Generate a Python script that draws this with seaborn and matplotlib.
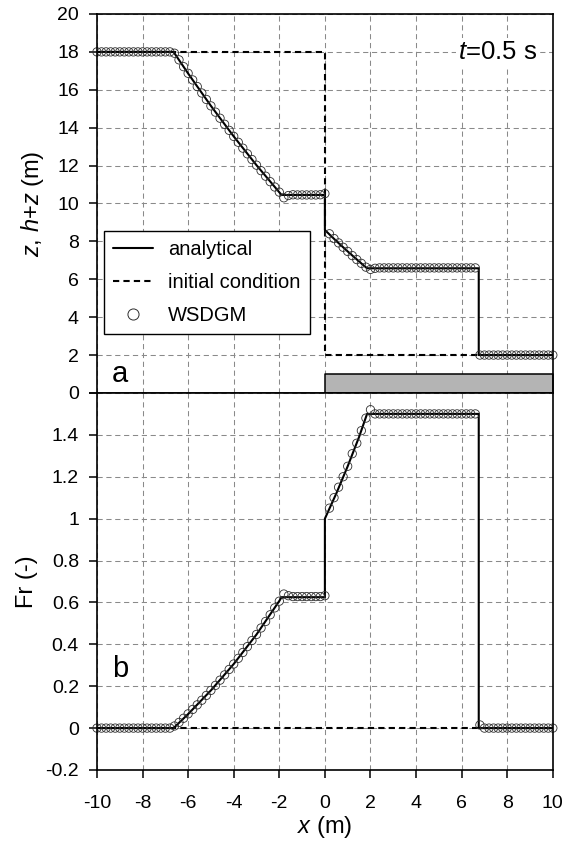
import numpy as np
import matplotlib
matplotlib.use("Agg")
import matplotlib.pyplot as plt
from matplotlib.lines import Line2D
from matplotlib.ticker import FormatStrFormatter, FuncFormatter
import seaborn as sns

# ---- data -------------------------------------------------------------
# sample positions of the WSDGM solution (m)
x_num = [-10.0, -9.8, -9.6, -9.4, -9.2, -9.0, -8.8, -8.6, -8.4, -8.2,
         -8.0, -7.8, -7.6, -7.4, -7.2, -7.0, -6.8, -6.6, -6.4, -6.2,
         -6.0, -5.8, -5.6, -5.4, -5.2, -5.0, -4.8, -4.6, -4.4, -4.2,
         -4.0, -3.8, -3.6, -3.4, -3.2, -3.0, -2.8, -2.6, -2.4, -2.2,
         -2.0, -1.8, -1.6, -1.4, -1.2, -1.0, -0.8, -0.6, -0.4, -0.2,
         0.0, 0.2, 0.4, 0.6, 0.8, 1.0, 1.2, 1.4, 1.6, 1.8,
         2.0, 2.2, 2.4, 2.6, 2.8, 3.0, 3.2, 3.4, 3.6, 3.8,
         4.0, 4.2, 4.4, 4.6, 4.8, 5.0, 5.2, 5.4, 5.6, 5.8,
         6.0, 6.2, 6.4, 6.6, 6.8, 7.0, 7.2, 7.4, 7.6, 7.8,
         8.0, 8.2, 8.4, 8.6, 8.8, 9.0, 9.2, 9.4, 9.6, 9.8, 10.0]

# free surface h+z of the WSDGM solution (m)
hz_num = [18.0, 18.0, 18.0, 18.0, 18.0, 18.0, 18.0, 18.0, 18.0, 18.0,
          18.0, 18.0, 18.0, 18.0, 18.0, 18.0, 18.0, 17.93, 17.58, 17.22,
          16.87, 16.52, 16.17, 15.83, 15.49, 15.15, 14.82, 14.50, 14.18, 13.86,
          13.54, 13.23, 12.92, 12.62, 12.32, 12.02, 11.73, 11.44, 11.15, 10.87,
          10.60, 10.30, 10.42, 10.46, 10.45, 10.45, 10.45, 10.45, 10.45, 10.46,
          10.52, 8.40, 8.15, 7.92, 7.69, 7.47, 7.25, 7.04, 6.84, 6.64,
          6.52, 6.58, 6.60, 6.60, 6.60, 6.60, 6.60, 6.60, 6.60, 6.60,
          6.60, 6.60, 6.60, 6.60, 6.60, 6.60, 6.60, 6.60, 6.60, 6.60,
          6.60, 6.60, 6.60, 6.60, 2.0, 2.0, 2.0, 2.0, 2.0, 2.0,
          2.0, 2.0, 2.0, 2.0, 2.0, 2.0, 2.0, 2.0, 2.0, 2.0, 2.0]

# Froude number of the WSDGM solution (-)
fr_num = [0.0, 0.0, 0.0, 0.0, 0.0, 0.0, 0.0, 0.0, 0.0, 0.0,
          0.0, 0.0, 0.0, 0.0, 0.0, 0.0, 0.0, 0.010, 0.027, 0.047,
          0.068, 0.089, 0.111, 0.133, 0.156, 0.180, 0.204, 0.229, 0.254, 0.280,
          0.306, 0.333, 0.361, 0.389, 0.418, 0.447, 0.478, 0.509, 0.541, 0.574,
          0.606, 0.640, 0.632, 0.628, 0.628, 0.628, 0.628, 0.628, 0.628, 0.628,
          0.632, 1.05, 1.10, 1.15, 1.20, 1.25, 1.31, 1.36, 1.42, 1.48,
          1.52, 1.50, 1.50, 1.50, 1.50, 1.50, 1.50, 1.50, 1.50, 1.50,
          1.50, 1.50, 1.50, 1.50, 1.50, 1.50, 1.50, 1.50, 1.50, 1.50,
          1.50, 1.50, 1.50, 1.50, 0.015, 0.0, 0.0, 0.0, 0.0, 0.0,
          0.0, 0.0, 0.0, 0.0, 0.0, 0.0, 0.0, 0.0, 0.0, 0.0, 0.0]

# analytical solution (breakpoints of the profile)
x_an = [-10.0, -6.64, -6.0, -5.0, -4.0, -3.0, -2.0, -1.9, 0.0, 0.0,
        0.5, 1.0, 1.5, 1.85, 6.75, 6.75, 10.0]
hz_an = [18.0, 18.0, 16.86, 15.15, 13.54, 12.02, 10.59, 10.45, 10.45, 8.6,
         8.02, 7.47, 6.94, 6.58, 6.58, 2.0, 2.0]
fr_an = [0.0, 0.0, 0.067, 0.180, 0.306, 0.447, 0.607, 0.625, 0.625, 1.0,
         1.12, 1.25, 1.39, 1.50, 1.50, 0.0, 0.0]

# initial condition
x_ic = [-10.0, 0.0, 0.0, 10.0]
hz_ic = [18.0, 18.0, 2.0, 2.0]
x_ic_fr = [-10.0, 10.0]
fr_ic = [0.0, 0.0]

# bottom step
step_x = [0.0, 10.0]
step_z = [1.0, 1.0]

x_ticks = [-10, -8, -6, -4, -2, 0, 2, 4, 6, 8, 10]
hz_ticks = [0, 2, 4, 6, 8, 10, 12, 14, 16, 18, 20]
fr_ticks = [-0.2, 0, 0.2, 0.4, 0.6, 0.8, 1.0, 1.2, 1.4, 1.6]

# ---- style ------------------------------------------------------------
sns.set_style("ticks")
plt.rcParams["font.family"] = ["Liberation Sans", "DejaVu Sans"]
plt.rcParams["mathtext.fontset"] = "custom"
plt.rcParams["mathtext.rm"] = "Liberation Sans"
plt.rcParams["mathtext.it"] = "Liberation Sans:italic"
plt.rcParams["axes.unicode_minus"] = False
plt.rcParams["text.color"] = "black"
plt.rcParams["axes.labelcolor"] = "black"
plt.rcParams["xtick.color"] = "black"
plt.rcParams["ytick.color"] = "black"

TICK_FS = 14
LABEL_FS = 17
GRID_KW = dict(color="#8a8a8a", linestyle=(0, (5, 3.5)), linewidth=0.75)
MARK_KW = dict(marker="o", s=36, facecolor="none", edgecolor="#2e2e2e",
               linewidth=0.6, clip_on=False, zorder=4, legend=False)
LINE_LW = 1.5
DASH = (0, (3, 2))

fig = plt.figure(figsize=(5.67, 8.48), dpi=100)
ax1 = fig.add_axes([0.171, 0.5366, 0.804, 0.4469])
ax2 = fig.add_axes([0.171, 0.092, 0.804, 0.4446])

for ax in (ax1, ax2):
    ax.set_xlim(-10, 10)
    ax.set_xticks(x_ticks)
    ax.grid(True, **GRID_KW)
    ax.set_axisbelow(True)
    for sp in ax.spines.values():
        sp.set_linewidth(1.2)
        sp.set_color("black")
        sp.set_zorder(6)
    ax.tick_params(axis="y", direction="out", length=6, width=1.1,
                   labelsize=TICK_FS, pad=7, colors="black")

# ---- panel a: free surface -------------------------------------------
ax1.fill_between(step_x, 0, step_z, facecolor="#b4b4b4", edgecolor="black",
                 linewidth=1.1, zorder=3)
sns.lineplot(x=x_ic, y=hz_ic, ax=ax1, sort=False, estimator=None,
             color="black", linewidth=LINE_LW, linestyle=DASH, zorder=2)
sns.lineplot(x=x_an, y=hz_an, ax=ax1, sort=False, estimator=None,
             color="black", linewidth=LINE_LW, zorder=3)
sns.scatterplot(x=x_num, y=hz_num, ax=ax1, **MARK_KW)

ax1.set_ylim(0, 20)
ax1.set_yticks(hz_ticks)
ax1.yaxis.set_major_formatter(FormatStrFormatter("%g"))
ax1.tick_params(axis="x", length=0, labelbottom=False)
ax1.set_xlabel("")
ax1.set_ylabel("$z$, $h$+$z$ (m)", fontsize=LABEL_FS)
ax1.yaxis.set_label_coords(-0.112, 0.5)

ax1.text(0.05, 0.03, "a", transform=ax1.transAxes, fontsize=21,
         ha="center", va="baseline")
ax1.text(9.3, 18, "$t$=0.5 s", fontsize=18.5, ha="right", va="center",
         bbox=dict(facecolor="white", edgecolor="none", pad=1.5), zorder=5)

handles = [
    Line2D([], [], color="black", linewidth=LINE_LW),
    Line2D([], [], color="black", linewidth=LINE_LW, linestyle=DASH),
    Line2D([], [], color="#2e2e2e", marker="o", markerfacecolor="none",
           markeredgewidth=0.7, markersize=8, linestyle="none"),
]
leg = ax1.legend(handles, ["analytical", "initial condition", "WSDGM"],
                 loc="upper left", bbox_to_anchor=(0.015, 0.427),
                 borderaxespad=0, fontsize=14.5, frameon=True, fancybox=False,
                 framealpha=1, edgecolor="black", handlelength=2.0,
                 handletextpad=0.75, labelspacing=0.7, borderpad=0.45)
leg.get_frame().set_linewidth(1.0)
leg.set_zorder(7)

# ---- panel b: Froude number ------------------------------------------
sns.lineplot(x=x_ic_fr, y=fr_ic, ax=ax2, sort=False, estimator=None,
             color="black", linewidth=LINE_LW, linestyle=DASH, zorder=2)
sns.lineplot(x=x_an, y=fr_an, ax=ax2, sort=False, estimator=None,
             color="black", linewidth=LINE_LW, zorder=3)
sns.scatterplot(x=x_num, y=fr_num, ax=ax2, **MARK_KW)

ax2.set_ylim(-0.2, 1.6)
ax2.set_yticks(fr_ticks)
ax2.yaxis.set_major_formatter(
    FuncFormatter(lambda v, p: "" if v > 1.5 else ("%g" % round(v, 1))))
ax2.tick_params(axis="x", direction="out", length=6, width=1.1,
                labelsize=TICK_FS, pad=12, colors="black")
ax2.xaxis.set_major_formatter(FormatStrFormatter("%g"))
ax2.set_ylabel("Fr (-)", fontsize=LABEL_FS)
ax2.yaxis.set_label_coords(-0.13, 0.5)
ax2.set_xlabel("$x$ (m)", fontsize=LABEL_FS)
ax2.xaxis.set_label_coords(0.5, -0.118)

ax2.text(0.05, 0.247, "b", transform=ax2.transAxes, fontsize=21,
         ha="center", va="baseline")

fig.savefig("out.png", dpi=100)
